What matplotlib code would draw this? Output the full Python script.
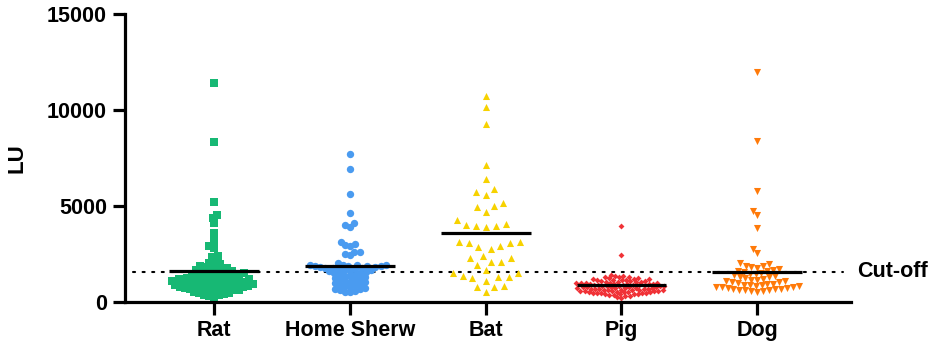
import numpy as np
import matplotlib
matplotlib.use('Agg')
import matplotlib.pyplot as plt

plt.rcParams['font.family'] = ['Liberation Sans', 'DejaVu Sans']
plt.rcParams['font.weight'] = 'bold'

categories = ['Rat', 'Home Sherw', 'Bat', 'Pig', 'Dog']

rat = [11420, 8350, 5190, 4530, 4370, 4110, 3590, 3230, 2920, 2800, 2400, 2340,
       2150, 2030, 1960, 1900, 1850, 1800, 1760, 1720, 1690, 1650, 1620, 1590, 1560,
       1530, 1500, 1480, 1450, 1420, 1400, 1380, 1350, 1330, 1300, 1280, 1260, 1240,
       1220, 1200, 1180, 1160, 1150, 1130, 1110, 1100, 1080, 1060, 1050, 1030, 1010,
       1000, 980, 960, 950, 930, 910, 900, 880, 860, 850, 830, 810, 800, 780, 760,
       740, 720, 700, 680, 660, 640, 620, 600, 570, 540, 510, 480, 450, 420, 380,
       340, 300, 260]

home_sherw = [7710, 6930, 5640, 4620, 4100, 4010, 3920, 3140, 3020, 2980, 2900, 2620,
              2600, 2500, 2460, 2020, 1950, 1940, 1920, 1910, 1890, 1880, 1860, 1850,
              1830, 1810, 1790, 1770, 1750, 1730, 1700, 1680, 1650, 1620, 1590, 1560,
              1530, 1500, 1460, 1420, 1380, 1340, 1300, 1260, 1220, 1180, 1140, 1100,
              1060, 1020, 980, 940, 900, 860, 820, 780, 740, 700, 660, 620, 580, 540, 500]

bat = [10730, 10170, 9250, 7135, 6420, 5885, 5745, 5570, 5140, 4965, 5000, 4690, 4270,
       4060, 3960, 3925, 3975, 4010, 3140, 3140, 2760, 2845, 2935, 3055, 3055, 2275,
       2275, 1925, 2100, 2100, 2410, 1665, 1490, 1490, 1230, 1320, 1090, 1285, 1370,
       850, 765, 800, 540]

pig = [3960, 2450, 1420, 1380, 1350, 1320, 1300, 1280, 1250, 1230, 1210, 1190, 1180,
       1160, 1150, 1130, 1120, 1100, 1090, 1080, 1060, 1050, 1040, 1030, 1010, 1000,
       990, 980, 970, 960, 950, 940, 930, 920, 910, 900, 890, 880, 870, 860, 850, 840,
       830, 820, 810, 800, 790, 780, 770, 760, 750, 740, 730, 720, 710, 700, 690, 680,
       670, 660, 650, 640, 630, 620, 610, 600, 590, 580, 570, 560, 550, 540, 530, 520,
       510, 500, 490, 480, 470, 460, 450, 440, 430, 420, 400, 380, 360, 330, 300, 260, 220]

dog = [11960, 8400, 5800, 4760, 4530, 3870, 2740, 2535, 2030, 1960, 1900, 1850, 1800,
       1760, 1720, 1680, 1640, 1600, 1560, 1520, 1480, 1440, 1400, 1360, 1320, 1280,
       1240, 1200, 1170, 1140, 1110, 1080, 1050, 1020, 990, 960, 930, 900, 880, 860,
       840, 820, 800, 780, 760, 740, 720, 700, 680, 660, 640, 620, 600, 580, 560, 540]

group_values = [rat, home_sherw, bat, pig, dog]
means = [1610, 1875, 3578, 870, 1580]
cutoff = 1580
cutoff_label = 'Cut-off'
ylabel = 'LU'
yticks = [0, 5000, 10000, 15000]

colors = ['#17B874', '#4A9BF0', '#F7D200', '#F03237', '#FF7A0A']
markers = ['s', 'o', '^', 'D', 'v']
sizes = [27, 28, 26, 9, 26]
spacing_px = [5.2, 5.2, 10.0, 4.2, 6.0]

W, H = 935, 347
fig = plt.figure(figsize=(W / 100, H / 100), dpi=100)
ax_l, ax_r, ax_t, ax_b = 125, 851, 14, 302
ax = fig.add_axes([ax_l / W, (H - ax_b) / H, (ax_r - ax_l) / W, (ax_b - ax_t) / H])
xlim = (-0.656, 4.69)
ylim = (0, 15000)
ax.set_xlim(*xlim)
ax.set_ylim(*ylim)

px_per_x = (ax_r - ax_l) / (xlim[1] - xlim[0])
px_per_y = (ax_b - ax_t) / (ylim[1] - ylim[0])


def swarm_offsets(values, d):
    ys = np.asarray(values, dtype=float) * px_per_y
    order = np.argsort(ys, kind='stable')
    placed = []
    offs = np.zeros(len(ys))
    for i in order:
        y = ys[i]
        neigh = [(px, py) for px, py in placed if abs(py - y) < d]
        cands = [0.0]
        for px, py in neigh:
            dx = np.sqrt(max(d * d - (py - y) ** 2, 0.0))
            cands += [px + dx, px - dx]
        cands = sorted(cands, key=lambda c: (abs(c), c))
        chosen = cands[0]
        for c in cands:
            ok = all((c - px) ** 2 + (y - py) ** 2 >= d * d - 1e-6 for px, py in neigh)
            if ok:
                chosen = c
                break
        offs[i] = chosen
        placed.append((chosen, y))
    return offs / px_per_x


# cut-off dotted line
ax.plot([-0.6, 4.63], [cutoff, cutoff], color='black', lw=1.5,
        linestyle=(0, (1, 3.6)), dash_capstyle='round', zorder=1)
ax.text(4.69 + 6 / px_per_x, cutoff, cutoff_label, ha='left', va='center',
        fontsize=15.5, fontweight='bold', clip_on=False)

for i, vals in enumerate(group_values):
    offs = swarm_offsets(vals, spacing_px[i])
    ax.scatter(i + offs, vals, s=sizes[i], marker=markers[i], color=colors[i],
               linewidths=0, zorder=2)
    ax.plot([i - 0.33, i + 0.33], [means[i], means[i]], color='black', lw=2.3,
            solid_capstyle='butt', zorder=3)

ax.set_xticks(range(len(categories)))
ax.set_xticklabels(categories, fontsize=15.5, fontweight='bold')
ax.set_yticks(yticks)
ax.set_yticklabels([str(t) for t in yticks], fontsize=15.5, fontweight='bold')
ax.set_ylabel(ylabel, fontsize=16, fontweight='bold', labelpad=14)

for s in ['top', 'right']:
    ax.spines[s].set_visible(False)
for s in ['left', 'bottom']:
    ax.spines[s].set_linewidth(2.3)
ax.tick_params(axis='both', width=2.3, length=9, pad=4)

fig.savefig('out.png', dpi=100)
